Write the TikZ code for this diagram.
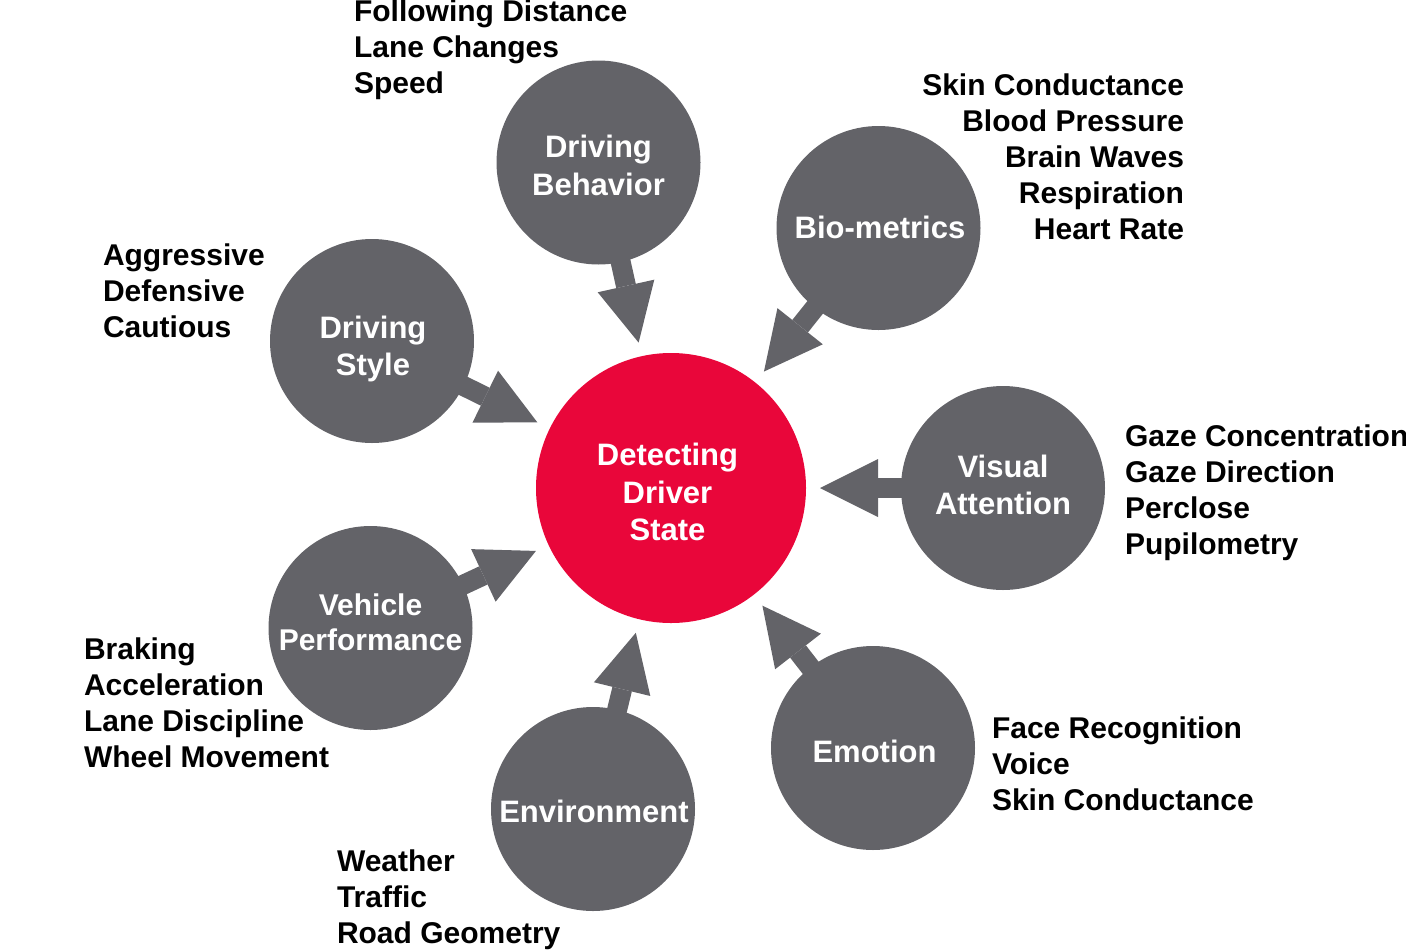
\documentclass[tikz,border=0pt]{standalone}
\usepackage{fontspec}
\setmainfont{Liberation Sans}
\usetikzlibrary{arrows.meta}
\definecolor{greyc}{RGB}{99,99,104}
\definecolor{redc}{RGB}{233,6,58}
\begin{document}
\begin{tikzpicture}[x=1pt,y=-1pt,
  bub/.style={circle, fill=greyc, minimum size=204pt, inner sep=0pt, outer sep=0pt},
  hub/.style={circle, fill=redc, minimum size=270pt, inner sep=0pt, outer sep=0pt},
  intext/.style={text=white, font=\bfseries\fontsize{31}{37.5}\selectfont, align=center, inner sep=0pt, outer sep=0pt, anchor=north},
  lstl/.style={text=black, font=\bfseries\fontsize{30}{36}\selectfont, align=left, inner sep=0pt, outer sep=0pt, anchor=north west},
  lstr/.style={text=black, font=\bfseries\fontsize{30}{36}\selectfont, align=right, inner sep=0pt, outer sep=0pt, anchor=north east},
  arr/.style={draw=greyc, line width=20pt, shorten <=-4pt, shorten >=14pt, -{Triangle[length=58pt,width=58pt,line width=0pt]}}]
\useasboundingbox (0,0) rectangle (1406,951);
% circles
\node[hub] (dds) at (671,488) {};
\node[bub] (db) at (598.5,162.5) {};
\node[bub] (bio) at (878.5,228) {};
\node[bub] (va) at (1003,488) {};
\node[bub] (emo) at (873,748) {};
\node[bub] (env) at (593,809) {};
\node[bub] (vp) at (370.5,628) {};
\node[bub] (ds) at (372,341) {};
% arrows
\draw[arr] (db) -- (dds);
\draw[arr] (bio) -- (dds);
\draw[arr] (va) -- (dds);
\draw[arr] (emo) -- (dds);
\draw[arr] (env) -- (dds);
\draw[arr] (vp) -- (dds);
\draw[arr] (ds) -- (dds);
% circle texts
\node[intext] (ddst) at (667.5,443.5) {Detecting\\Driver\\State};
\node[intext] (dbt) at (598.5,135.3) {Driving\\Behavior};
\node[intext] (biot) at (880,215.8) {Bio-metrics};
\node[intext] (dst) at (373,316) {Driving\\Style};
\node[intext] (vat) at (1003,454.8) {Visual\\Attention};
\node[intext, font=\bfseries\fontsize{30}{35}\selectfont] (vpt) at (370.5,594) {Vehicle\\Performance};
\node[intext] (emot) at (874.5,740) {Emotion};
\node[intext] (envt) at (594,799.8) {Environment};
% lists
\node[lstl] (dbl) at (354,0) {Following Distance\\Lane Changes\\Speed};
\node[lstr] (biol) at (1184,73.5) {Skin Conductance\\Blood Pressure\\Brain Waves\\Respiration\\Heart Rate};
\node[lstl] (dsl) at (103,243.5) {Aggressive\\Defensive\\Cautious};
\node[lstl] (val) at (1125,424.5) {Gaze Concentration\\Gaze Direction\\Perclose\\Pupilometry};
\node[lstl] (vpl) at (84,637.5) {Braking\\Acceleration\\Lane Discipline\\Wheel Movement};
\node[lstl] (envl) at (337,849.5) {Weather\\Traffic\\Road Geometry};
\node[lstl] (emol) at (992,716.5) {Face Recognition\\Voice\\Skin Conductance};
\end{tikzpicture}
\end{document}
